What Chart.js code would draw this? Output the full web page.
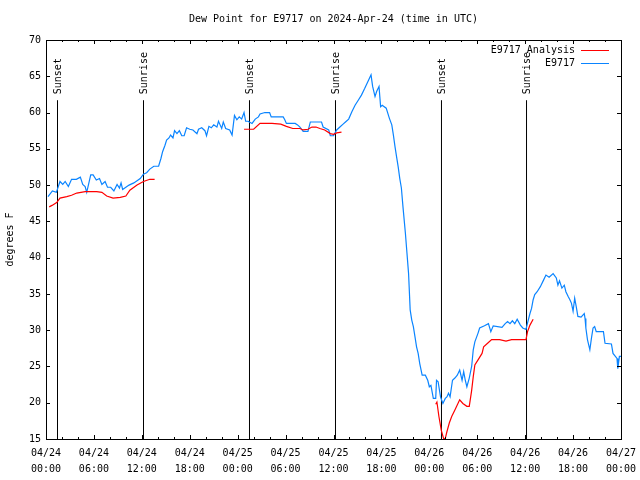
<!DOCTYPE html>
<html>
<head>
<meta charset="utf-8">
<script src="https://cdn.jsdelivr.net/npm/chart.js@4"></script>
<style>
  html, body { margin: 0; padding: 0; background: #fff; }
</style>
</head>
<body>
<canvas id="dewChart" width="640" height="480"></canvas>
<script>
// hours since 2024-04-24 00:00 UTC
var blueHours = [0.25, 0.8, 1.3, 1.75, 2.1, 2.4, 2.8, 3.2, 3.8, 4.3, 4.6, 4.9, 5.1, 5.6, 5.9, 6.3, 6.7, 7.0, 7.4, 7.7,
  8.1, 8.5, 8.9, 9.2, 9.4, 9.6, 10.0, 10.4, 11.0, 11.4, 11.8, 12.2, 12.6, 13.0, 13.5, 14.1, 14.4, 14.6, 14.9, 15.1,
  15.4, 15.6, 15.9, 16.1, 16.4, 16.7, 17.0, 17.3, 17.6, 18.0, 18.4, 18.9, 19.1, 19.5, 19.9, 20.1, 20.4, 20.7, 21.0, 21.4,
  21.6, 21.8, 22.0, 22.2, 22.5, 23.0, 23.3, 23.6, 23.9, 24.2, 24.5, 24.8, 25.0, 25.3, 25.8, 26.2, 26.6, 26.8, 27.4, 28.0,
  28.2, 29.7, 29.9, 30.1, 31.2, 31.5, 31.8, 32.2, 32.8, 33.1, 34.5, 34.7, 35.4, 35.6, 36.0, 36.4, 36.8, 37.2, 37.5, 37.9,
  38.3, 38.7, 39.1, 39.5, 39.9, 40.4, 40.7, 40.9, 41.2, 41.4, 41.7, 41.9, 42.1, 42.6, 43.0, 43.3, 43.5, 43.7, 43.9, 44.1,
  44.3, 44.5, 44.7, 45.0, 45.2, 45.4, 45.6, 45.8, 46.0, 46.2, 46.4, 46.6, 46.8, 47.1, 47.5, 47.8, 48.0, 48.2, 48.5, 48.8,
  48.9, 49.1, 49.4, 49.7, 50.0, 50.2, 50.4, 50.6, 50.9, 51.2, 51.5, 51.8, 52.1, 52.3, 52.5, 52.7, 53.0, 53.3, 53.5, 53.7,
  54.1, 54.3, 54.9, 55.4, 55.7, 56.0, 57.1, 57.5, 57.8, 58.1, 58.4, 58.7, 59.0, 59.4, 59.7, 60.1, 60.3, 60.6, 60.8, 61.0,
  61.2, 61.5, 61.9, 62.3, 62.6, 63.0, 63.5, 63.9, 64.1, 64.3, 64.6, 64.9, 65.1, 65.4, 65.6, 65.8, 66.0, 66.2, 66.4, 66.6,
  67.0, 67.4, 67.5, 67.6, 67.8, 68.1, 68.3, 68.5, 68.7, 68.9, 69.8, 70.0, 70.8, 71.0, 71.5, 71.6, 71.8, 72.0];
var blueValues = [48.4, 49.2, 49.0, 50.5, 50.1, 50.5, 49.8, 50.8, 50.8, 51.1, 50.1, 49.8, 49.0, 51.4, 51.4, 50.7, 50.9, 50.1, 50.5, 49.7,
  49.7, 49.2, 50.1, 49.6, 50.3, 49.4, 49.7, 50.0, 50.3, 50.6, 50.9, 51.5, 51.7, 52.2, 52.6, 52.6, 53.7, 54.6, 55.5, 56.2,
  56.5, 56.9, 56.5, 57.5, 57.1, 57.5, 56.8, 56.8, 57.9, 57.7, 57.6, 57.1, 57.7, 57.9, 57.5, 56.8, 58.1, 57.9, 58.3, 58.0,
  58.8, 58.3, 57.8, 58.7, 57.8, 57.6, 56.9, 59.6, 59.0, 59.4, 59.1, 60.0, 58.8, 58.8, 58.5, 59.1, 59.4, 59.8, 60.0, 60.0,
  59.4, 59.4, 59.0, 58.5, 58.5, 58.3, 58.0, 57.4, 57.4, 58.7, 58.7, 58.0, 57.6, 56.8, 56.8, 57.6, 58.0, 58.4, 58.7, 59.1,
  60.1, 61.0, 61.7, 62.4, 63.3, 64.5, 65.2, 63.6, 62.2, 62.9, 63.6, 60.8, 61.0, 60.6, 59.2, 58.3, 56.9, 55.3, 53.9, 52.5,
  50.9, 49.6, 47.0, 43.4, 40.6, 37.8, 32.8, 31.4, 30.5, 29.1, 27.7, 26.8, 25.4, 23.8, 23.8, 23.1, 22.2, 22.4, 20.6, 20.6,
  23.1, 22.9, 20.8, 19.9, 20.6, 20.8, 21.3, 20.8, 23.1, 23.4, 23.8, 24.5, 23.1, 24.3, 23.1, 22.2, 23.4, 25.0, 27.3, 28.4,
  29.6, 30.3, 30.6, 30.9, 29.8, 30.6, 30.4, 30.9, 31.2, 30.9, 31.3, 30.9, 31.5, 30.7, 30.3, 30.1, 31.0, 32.3, 33.0, 34.2,
  34.9, 35.3, 36.0, 36.9, 37.6, 37.3, 37.8, 37.2, 36.2, 36.8, 35.8, 36.2, 35.3, 34.6, 34.2, 33.7, 32.6, 34.4, 33.2, 31.9,
  31.8, 32.3, 31.6, 30.3, 28.7, 27.3, 28.9, 30.3, 30.5, 29.8, 29.8, 28.2, 28.1, 26.8, 26.1, 24.7, 26.4, 26.4];

var redHours = [0.4, 0.75, 1.34, 1.75, 2.6, 3.2, 3.85, 4.9, 6.35, 7.0, 7.6, 8.4, 9.3, 10.0, 10.5, 11.4, 12.2, 13.0, 13.6,
  19.0,
  24.8, 26.0, 26.8, 28.3, 29.4, 30.1, 30.9, 31.8, 32.2, 32.8, 33.3, 33.8, 34.3, 34.9, 35.6, 36.0, 36.4, 37.0,
  43.0,
  48.8, 48.95, 49.2, 49.5, 49.8, 50.0, 50.2, 50.5, 50.8, 51.2, 51.8, 52.2, 52.7, 53.0, 53.3, 53.5, 53.7, 54.1, 54.6,
  54.8, 55.4, 55.8, 56.8, 57.6, 58.3, 60.1, 60.3, 60.6, 61.0];
var redValues = [47.0, 47.2, 47.6, 48.2, 48.4, 48.6, 48.9, 49.1, 49.1, 49.0, 48.5, 48.2, 48.3, 48.5, 49.3, 50.0, 50.5, 50.8, 50.8,
  null,
  57.7, 57.7, 58.5, 58.5, 58.4, 58.1, 57.8, 57.8, 57.6, 57.7, 58.0, 58.0, 57.8, 57.6, 57.1, 57.0, 57.2, 57.3,
  null,
  19.8, 20.1, 18.1, 16.2, 15.0, 15.1, 16.0, 17.2, 18.1, 19.0, 20.4, 19.9, 19.5, 19.5, 21.7, 23.6, 25.2, 25.9, 26.8,
  27.7, 28.3, 28.7, 28.7, 28.5, 28.7, 28.7, 29.8, 30.7, 31.5];

var sunHours = [1.44, 12.21, 25.48, 36.25, 49.52, 60.17];
var sunLabels = ['Sunset', 'Sunrise', 'Sunset', 'Sunrise', 'Sunset', 'Sunrise'];
var sunLineTop = 61.7;

var xTickDates = ['04/24', '04/24', '04/24', '04/24', '04/25', '04/25', '04/25', '04/25', '04/26', '04/26', '04/26', '04/26', '04/27'];
var xTickTimes = ['00:00', '06:00', '12:00', '18:00', '00:00', '06:00', '12:00', '18:00', '00:00', '06:00', '12:00', '18:00', '00:00'];

var yMin = 15, yMax = 70;
var monoFont = "'DejaVu Sans Mono', 'Liberation Mono', monospace";

function toPoints(hours, values) {
  return hours.map((h, i) => ({x: h, y: values[i]}));
}

var datasets = [
  {
    label: 'E9717 Analysis',
    data: toPoints(redHours, redValues),
    borderColor: '#ff0000',
    borderWidth: 1.2,
    pointRadius: 0,
    spanGaps: false
  },
  {
    label: 'E9717',
    data: toPoints(blueHours, blueValues),
    borderColor: '#0a84ff',
    borderWidth: 1.2,
    pointRadius: 0
  }
];

sunHours.forEach((h, i) => {
  datasets.push({
    label: sunLabels[i],
    data: [{x: h, y: yMin}, {x: h, y: sunLineTop}],
    borderColor: '#000',
    borderWidth: 1,
    pointRadius: 0
  });
});

// border box, inward ticks, sun labels and the gnuplot style key
const gnuplotDecor = {
  id: 'gnuplotDecor',
  afterDatasetsDraw(chart) {
    const ctx = chart.ctx;
    const a = chart.chartArea;
    const x = chart.scales.x, y = chart.scales.y;
    ctx.save();
    ctx.strokeStyle = '#000';
    ctx.lineWidth = 1;
    ctx.beginPath();
    for (let h = 0; h <= 72; h += 2) {
      const px = Math.round(x.getPixelForValue(h)) + 0.5;
      const len = h % 6 === 0 ? 4 : 2;
      ctx.moveTo(px, a.bottom); ctx.lineTo(px, a.bottom - len);
      ctx.moveTo(px, a.top); ctx.lineTo(px, a.top + len);
    }
    for (let v = yMin; v <= yMax; v += 5) {
      const py = Math.round(y.getPixelForValue(v)) + 0.5;
      ctx.moveTo(a.left, py); ctx.lineTo(a.left + 4, py);
      ctx.moveTo(a.right, py); ctx.lineTo(a.right - 4, py);
    }
    ctx.stroke();
    ctx.strokeRect(a.left + 0.5, a.top + 0.5, a.right - a.left, a.bottom - a.top);

    ctx.fillStyle = '#000';
    ctx.font = '10px ' + monoFont;
    const topPx = y.getPixelForValue(sunLineTop);
    sunHours.forEach((h, i) => {
      ctx.save();
      ctx.translate(x.getPixelForValue(h) + 1, topPx - 6);
      ctx.rotate(-Math.PI / 2);
      ctx.textAlign = 'left';
      ctx.textBaseline = 'middle';
      ctx.fillText(sunLabels[i], 0, 0);
      ctx.restore();
    });

    ctx.textAlign = 'right';
    ctx.textBaseline = 'middle';
    [0, 1].forEach(i => {
      const ds = chart.data.datasets[i];
      const rowY = a.top + 10 + i * 13;
      ctx.fillStyle = '#000';
      ctx.fillText(ds.label, a.right - 46, rowY);
      ctx.strokeStyle = ds.borderColor;
      ctx.beginPath();
      ctx.moveTo(a.right - 40, rowY + 0.5);
      ctx.lineTo(a.right - 12, rowY + 0.5);
      ctx.stroke();
    });
    ctx.restore();
  }
};

Chart.defaults.font.family = monoFont;
Chart.defaults.font.size = 10;
Chart.defaults.color = '#000';

var dewChart = new Chart(document.getElementById('dewChart'), {
  type: 'line',
  data: {datasets: datasets},
  options: {
    responsive: false,
    animation: false,
    events: [],
    layout: {padding: {left: 0, right: 19, top: 0, bottom: 0}},
    plugins: {
      legend: {display: false},
      tooltip: {enabled: false},
      title: {
        display: true,
        text: 'Dew Point for E9717 on 2024-Apr-24 (time in UTC)',
        fullSize: false,
        font: {size: 10, weight: 'normal', lineHeight: 1.2},
        padding: {top: 13, bottom: 15}
      }
    },
    scales: {
      x: {
        type: 'linear',
        min: 0,
        max: 72,
        grid: {display: false, drawTicks: false},
        border: {display: false},
        ticks: {
          stepSize: 6,
          autoSkip: false,
          maxRotation: 0,
          padding: 6,
          font: {size: 10, lineHeight: 1.6},
          callback: (v, i) => [xTickDates[i], xTickTimes[i]]
        },
        afterFit: s => { s.height = 41; s.paddingLeft = 0; s.paddingRight = 0; }
      },
      y: {
        min: yMin,
        max: yMax,
        grid: {display: false, drawTicks: false},
        border: {display: false},
        ticks: {stepSize: 5, padding: 5},
        title: {display: true, text: 'degrees F', padding: 4, font: {size: 10}},
        afterFit: s => { s.width = 46; s.paddingTop = 0; s.paddingBottom = 0; }
      }
    }
  },
  plugins: [gnuplotDecor]
});
</script>
</body>
</html>
